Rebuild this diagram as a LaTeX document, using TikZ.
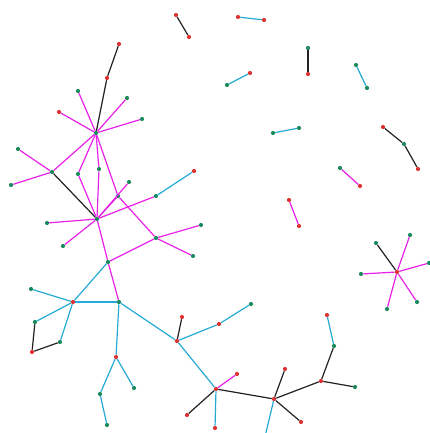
\documentclass[tikz,border=0pt]{standalone}
\usepackage{tikz}

\definecolor{nred}{RGB}{222,52,52}
\definecolor{ngreen}{RGB}{28,140,92}
\definecolor{ecyan}{RGB}{36,170,212}
\definecolor{emag}{RGB}{232,32,232}
\definecolor{eblack}{RGB}{34,34,34}

\begin{document}
\begin{tikzpicture}[x=1pt, y=-1pt, rd/.style={circle, fill=nred, inner sep=0pt, minimum size=4.2pt}, gn/.style={circle, fill=ngreen, inner sep=0pt, minimum size=4.2pt}, cy/.style={ecyan, line width=1.2pt}, mg/.style={emag, line width=1.2pt}, bk/.style={eblack, line width=1.2pt}]
	\useasboundingbox (0,0) rectangle (429,433);
	\node[rd] (p1) at (176,15) {};
	\node[rd] (p2) at (189,37) {};
	\node[rd] (p3) at (238,17) {};
	\node[rd] (p4) at (264,20) {};
	\node[gn] (p5) at (308,48) {};
	\node[rd] (p6) at (308,74) {};
	\node[rd] (p7) at (250,73) {};
	\node[gn] (p8) at (227,85) {};
	\node[gn] (p9) at (356,65) {};
	\node[gn] (p10) at (367,88) {};
	\node[gn] (p11) at (273,133) {};
	\node[gn] (p12) at (299,128) {};
	\node[rd] (p13) at (383,127) {};
	\node[gn] (p14) at (404,144) {};
	\node[rd] (p15) at (418,169) {};
	\node[gn] (p16) at (340,168) {};
	\node[rd] (p17) at (360,186) {};
	\node[rd] (p18) at (289,200) {};
	\node[rd] (p19) at (299,226) {};
	\draw[bk] (p1) -- (p2);
	\draw[cy] (p3) -- (p4);
	\draw[bk] (p5) -- (p6);
	\draw[cy] (p7) -- (p8);
	\draw[cy] (p9) -- (p10);
	\draw[cy] (p11) -- (p12);
	\draw[bk] (p13) -- (p14);
	\draw[bk] (p14) -- (p15);
	\draw[mg] (p16) -- (p17);
	\draw[mg] (p18) -- (p19);
	\node[rd] (s0) at (397,272) {};
	\node[gn] (s1) at (376,243) {};
	\node[gn] (s2) at (410,235) {};
	\node[gn] (s3) at (429,263) {};
	\node[gn] (s4) at (361,274) {};
	\node[gn] (s5) at (387,309) {};
	\node[gn] (s6) at (417,302) {};
	\draw[bk] (s0) -- (s1);
	\draw[mg] (s0) -- (s2);
	\draw[mg] (s0) -- (s3);
	\draw[mg] (s0) -- (s4);
	\draw[mg] (s0) -- (s5);
	\draw[mg] (s0) -- (s6);
	\node[rd] (c1) at (119,44) {};
	\node[rd] (c2) at (107,78) {};
	\node[gn] (h1) at (96,133) {};
	\node[gn] (a1) at (78,91) {};
	\node[gn] (a2) at (127,98) {};
	\node[gn] (a3) at (142,119) {};
	\node[rd] (a4) at (59,112) {};
	\node[gn] (h2) at (52,172) {};
	\node[gn] (a5) at (18,149) {};
	\node[gn] (a6) at (11,185) {};
	\node[gn] (b1) at (78,174) {};
	\node[gn] (b2) at (99,169) {};
	\node[gn] (g1) at (118,196) {};
	\node[gn] (b3) at (129,182) {};
	\node[gn] (h3) at (97,219) {};
	\node[gn] (b4) at (156,196) {};
	\node[rd] (b5) at (194,171) {};
	\node[gn] (b6) at (47,223) {};
	\node[gn] (b7) at (63,246) {};
	\node[gn] (h4) at (156,238) {};
	\node[gn] (b8) at (201,225) {};
	\node[gn] (b9) at (193,256) {};
	\node[gn] (h5) at (108,262) {};
	\node[gn] (h6) at (119,302) {};
	\draw[bk] (c1) -- (c2);
	\draw[bk] (c2) -- (h1);
	\draw[mg] (h1) -- (a1);
	\draw[mg] (h1) -- (a2);
	\draw[mg] (h1) -- (a3);
	\draw[mg] (h1) -- (a4);
	\draw[mg] (h1) -- (h2);
	\draw[mg] (h2) -- (a5);
	\draw[mg] (h2) -- (a6);
	\draw[bk] (h2) -- (h3);
	\draw[mg] (h1) -- (b1);
	\draw[mg] (b1) -- (h3);
	\draw[mg] (h1) -- (b2);
	\draw[mg] (b2) -- (h3);
	\draw[mg] (h1) -- (g1);
	\draw[mg] (h3) -- (g1);
	\draw[mg] (h3) -- (b3);
	\draw[mg] (g1) -- (h4);
	\draw[mg] (h3) -- (b4);
	\draw[cy] (b4) -- (b5);
	\draw[mg] (h3) -- (b6);
	\draw[mg] (h3) -- (b7);
	\draw[mg] (h4) -- (b8);
	\draw[mg] (h4) -- (b9);
	\draw[mg] (h4) -- (h5);
	\draw[mg] (h3) -- (h5);
	\draw[mg] (h5) -- (h6);
	\node[rd] (r1) at (73,302) {};
	\node[gn] (d1) at (31,289) {};
	\node[gn] (d2) at (35,322) {};
	\node[gn] (d3) at (60,342) {};
	\node[rd] (d4) at (32,352) {};
	\draw[cy] (h5) -- (r1);
	\draw[cy] (r1) -- (d1);
	\draw[cy] (r1) -- (d2);
	\draw[cy] (r1) -- (d3);
	\draw[bk] (d4) -- (d2);
	\draw[bk] (d4) -- (d3);
	\draw[cy] (r1) -- (h6);
	\node[rd] (e1) at (116,357) {};
	\node[gn] (e2) at (100,394) {};
	\node[gn] (e3) at (134,388) {};
	\node[gn] (e4) at (107,425) {};
	\draw[cy] (h6) -- (e1);
	\draw[cy] (e1) -- (e2);
	\draw[cy] (e1) -- (e3);
	\draw[cy] (e2) -- (e4);
	\node[rd] (f1) at (177,341) {};
	\node[rd] (f2) at (182,317) {};
	\node[rd] (f3) at (219,324) {};
	\node[gn] (f4) at (251,304) {};
	\draw[cy] (h6) -- (f1);
	\draw[bk] (f1) -- (f2);
	\draw[cy] (f1) -- (f3);
	\draw[cy] (f3) -- (f4);
	\node[rd] (h7) at (216,389) {};
	\node[rd] (k1) at (237,374) {};
	\node[rd] (k2) at (187,415) {};
	\node[rd] (k3) at (215,428) {};
	\node[rd] (h8) at (274,399) {};
	\draw[cy] (f1) -- (h7);
	\draw[mg] (h7) -- (k1);
	\draw[bk] (h7) -- (k2);
	\draw[cy] (h7) -- (k3);
	\draw[bk] (h7) -- (h8);
	\node[rd] (m1) at (285,369) {};
	\node[rd] (m2) at (301,422) {};
	\coordinate (m3) at (263,445);
	\node[rd] (n1) at (321,381) {};
	\node[gn] (n2) at (355,387) {};
	\node[gn] (n3) at (334,346) {};
	\node[rd] (n4) at (327,315) {};
	\draw[bk] (h8) -- (m1);
	\draw[bk] (h8) -- (m2);
	\draw[cy] (h8) -- (m3);
	\draw[bk] (h8) -- (n1);
	\draw[bk] (n1) -- (n2);
	\draw[bk] (n1) -- (n3);
	\draw[cy] (n3) -- (n4);
	
\end{tikzpicture}
\end{document}
